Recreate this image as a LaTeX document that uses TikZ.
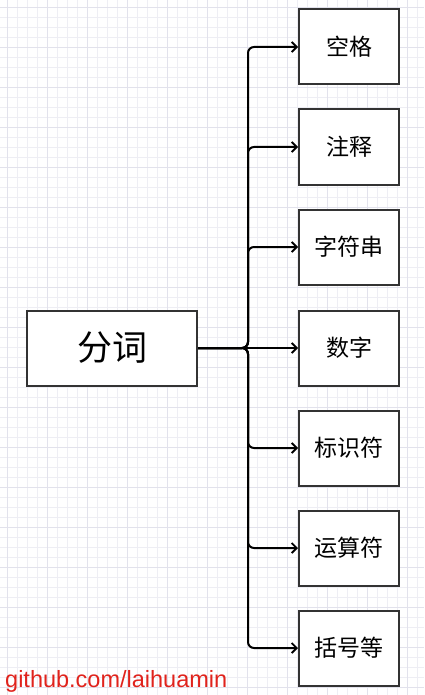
\documentclass[tikz,border=0pt]{standalone}
\usepackage{fontspec}
\newfontfamily\cjk{Noto Sans CJK SC}
\newfontfamily\latin{Liberation Sans}
\usetikzlibrary{arrows.meta}
\definecolor{gridminor}{HTML}{EEEEF4}
\definecolor{gridmajor}{HTML}{E2E2EC}
\definecolor{boxline}{HTML}{333333}
\definecolor{wmred}{HTML}{E0231C}
\tikzset{
  leafbox/.style={draw=boxline, line width=2pt, fill=white, minimum width=100pt, minimum height=75pt, inner sep=0pt, font=\cjk\fontsize{23}{26}\selectfont},
  rootbox/.style={draw=boxline, line width=2pt, fill=white, minimum width=170pt, minimum height=75pt, inner sep=0pt, font=\cjk\fontsize{35}{40}\selectfont},
  conn/.style={line width=2pt, black, rounded corners=6pt, -{Straight Barb[length=5pt,width=10pt,line width=1.8pt]}}
}
\begin{document}
\begin{tikzpicture}[x=1pt,y=-1pt]
\fill[white] (0,0) rectangle (424,695);
\useasboundingbox (0,0) rectangle (424,695);
\foreach \i in {0,...,41} {
  \draw[gridminor, line width=0.8pt] (7.5+10*\i,0) -- (7.5+10*\i,695);
}
\foreach \i in {0,...,69} {
  \draw[gridminor, line width=0.8pt] (0,7.5+10*\i) -- (424,7.5+10*\i);
}
\foreach \i in {0,...,10} {
  \draw[gridmajor, line width=0.8pt] (7.5+40*\i,0) -- (7.5+40*\i,695);
}
\foreach \i in {0,...,17} {
  \draw[gridmajor, line width=0.8pt] (0,7.5+40*\i) -- (424,7.5+40*\i);
}
\node[rootbox] (root) at (112,348) {分词};
\node[leafbox] (a) at (349,47) {空格};
\node[leafbox] (b) at (349,147) {注释};
\node[leafbox] (c) at (349,247) {字符串};
\node[leafbox] (d) at (349,348) {数字};
\node[leafbox] (e) at (349,448) {标识符};
\node[leafbox] (f) at (349,548) {运算符};
\node[leafbox] (g) at (349,648) {括号等};
\coordinate (j) at (248,348);
\foreach \leaf in {a,b,c,e,f,g} {
  \draw[conn] (root.east) -- (j) |- (\leaf.west);
}
\draw[conn] (root.east) -- (d.west);
\node[anchor=base west, inner sep=0pt, text=wmred, font=\latin\fontsize{23.5}{26}\selectfont] (wm) at (5,687) {github.com/laihuamin};
\end{tikzpicture}
\end{document}
